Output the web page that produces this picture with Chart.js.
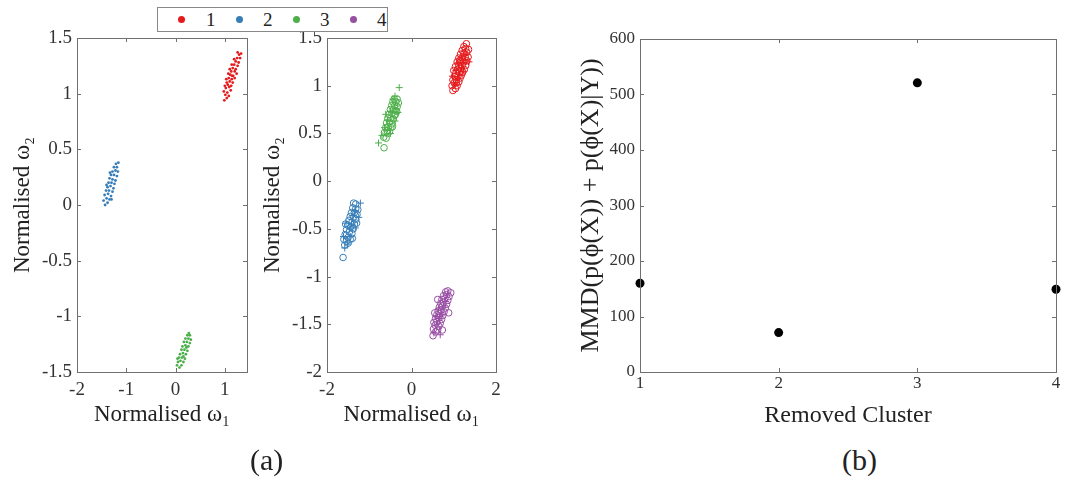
<!DOCTYPE html>
<html lang="en">
<head>
  <meta charset="UTF-8" />
  <title>Cluster removal MMD</title>
  <script src="https://cdn.jsdelivr.net/npm/chart.js@4.4.0/dist/chart.umd.min.js"></script>
  <style>
    body {
      margin: 0;
      width: 1092px;
      height: 482px;
      background: #fff;
      position: relative;
      overflow: hidden;
      font-family: "Liberation Serif", serif;
      color: #222;
    }
    canvas { position: absolute; top: 0; }
    #legend {
      position: absolute;
      left: 157px; top: 7px;
      width: 231px; height: 25px;
      border: 1px solid #888;
      box-sizing: border-box;
      background: #fff;
      z-index: 5;
    }
    #legend span { position: absolute; }
    #legend .dot { width: 7px; height: 7px; border-radius: 50%; top: 8px; }
    #legend .num { font-size: 19px; top: 0px; line-height: 23px; }
    .cap { position: absolute; top: 442px; font-size: 30px; line-height: 36px; }
  </style>
</head>
<body>

  <canvas id="chartA" width="255" height="440" style="left:0px"></canvas>
  <canvas id="chartB" width="260" height="440" style="left:250px"></canvas>
  <canvas id="chartC" width="547" height="440" style="left:545px"></canvas>

  <div id="legend"></div>
  <div class="cap" style="left:250px">(a)</div>
  <div class="cap" style="left:842px">(b)</div>

  <script>
    // cluster colours and names
    const clusterNames = ['1', '2', '3', '4'];
    const clusterColors = ['#e41a1c', '#377eb8', '#4daf4a', '#984ea3'];

    // (a) left: clusters without cluster 4
    const leftRed = [[0.99,0.94],[1.04,0.96],[1.01,0.99],[1.08,0.98],[0.98,1.02],[1.05,1.01],[1.12,1.03],[1.02,1.05],[1.09,1.06],[1.0,1.07],[1.06,1.08],[1.13,1.07],[1.04,1.1],[1.1,1.11],[1.16,1.1],[1.08,1.14],[1.14,1.13],[1.2,1.14],[1.03,1.13],[1.11,1.17],[1.17,1.16],[1.07,1.18],[1.13,1.2],[1.2,1.2],[1.24,1.18],[1.16,1.23],[1.22,1.22],[1.1,1.22],[1.19,1.26],[1.26,1.25],[1.14,1.26],[1.22,1.29],[1.28,1.28],[1.25,1.32],[1.19,1.31],[1.31,1.32],[1.29,1.35],[1.26,1.37],[1.33,1.36],[1.15,1.16]];
    const leftBlue = [[-1.43,0.0],[-1.38,0.02],[-1.46,0.04],[-1.4,0.06],[-1.34,0.05],[-1.44,0.09],[-1.37,0.1],[-1.31,0.08],[-1.41,0.13],[-1.35,0.13],[-1.28,0.12],[-1.38,0.16],[-1.32,0.17],[-1.26,0.15],[-1.36,0.2],[-1.3,0.2],[-1.24,0.19],[-1.34,0.24],[-1.28,0.23],[-1.22,0.22],[-1.31,0.27],[-1.25,0.27],[-1.19,0.26],[-1.28,0.3],[-1.22,0.31],[-1.17,0.3],[-1.25,0.34],[-1.19,0.34],[-1.21,0.37],[-1.16,0.38],[-1.3,0.05],[-1.4,0.18],[-1.33,0.29]];
    const leftGreen = [[0.03,-1.44],[0.08,-1.46],[0.12,-1.44],[0.05,-1.41],[0.1,-1.4],[0.16,-1.41],[0.07,-1.37],[0.13,-1.37],[0.19,-1.38],[0.09,-1.34],[0.15,-1.33],[0.21,-1.34],[0.12,-1.3],[0.18,-1.3],[0.24,-1.31],[0.14,-1.27],[0.2,-1.26],[0.26,-1.27],[0.17,-1.23],[0.23,-1.23],[0.29,-1.24],[0.2,-1.2],[0.26,-1.2],[0.31,-1.21],[0.24,-1.17],[0.29,-1.17],[0.27,-1.15],[0.04,-1.38],[0.22,-1.28],[0.16,-1.36]];

    // (a) middle: circles and plus markers per cluster
    const midRedO = [[0.98,0.95],[1.04,0.97],[0.96,1.0],[1.08,1.0],[1.01,1.03],[1.12,1.04],[0.98,1.06],[1.06,1.06],[1.15,1.08],[1.02,1.1],[1.1,1.1],[1.18,1.11],[1.05,1.13],[1.13,1.14],[1.21,1.14],[1.0,1.16],[1.09,1.17],[1.17,1.18],[1.25,1.17],[1.04,1.2],[1.12,1.21],[1.2,1.21],[1.28,1.21],[1.08,1.25],[1.16,1.25],[1.24,1.25],[1.31,1.26],[1.12,1.29],[1.2,1.29],[1.27,1.3],[1.34,1.3],[1.16,1.33],[1.24,1.34],[1.31,1.35],[1.2,1.37],[1.28,1.39],[1.35,1.38],[1.24,1.41],[1.3,1.44],[1.06,1.03],[1.14,1.26]];
    const midRedP = [[0.97,1.1],[1.03,1.01],[1.09,1.08],[1.14,1.12],[1.18,1.19],[1.22,1.24],[1.27,1.27],[1.36,1.25],[1.1,1.24],[1.29,1.33],[1.05,1.16],[1.22,1.15],[1.17,1.3]];
    const midBlueO = [[-1.62,-0.8],[-1.58,-0.67],[-1.6,-0.61],[-1.54,-0.63],[-1.57,-0.56],[-1.5,-0.59],[-1.45,-0.61],[-1.54,-0.51],[-1.47,-0.53],[-1.41,-0.55],[-1.51,-0.46],[-1.44,-0.48],[-1.38,-0.5],[-1.48,-0.41],[-1.41,-0.43],[-1.35,-0.45],[-1.45,-0.37],[-1.38,-0.38],[-1.32,-0.4],[-1.42,-0.33],[-1.35,-0.33],[-1.29,-0.35],[-1.39,-0.28],[-1.32,-0.29],[-1.27,-0.3],[-1.37,-0.23],[-1.32,-0.24],[-1.5,-0.65],[-1.56,-0.45],[-1.4,-0.6],[-1.3,-0.44]];
    const midBlueP = [[-1.61,-0.58],[-1.58,-0.7],[-1.51,-0.66],[-1.47,-0.5],[-1.42,-0.45],[-1.39,-0.36],[-1.33,-0.31],[-1.21,-0.23],[-1.25,-0.38],[-1.33,-0.49],[-1.55,-0.44],[-1.45,-0.58]];
    const midGreenO = [[-0.65,0.35],[-0.66,0.46],[-0.6,0.45],[-0.64,0.51],[-0.57,0.5],[-0.52,0.52],[-0.61,0.56],[-0.55,0.57],[-0.49,0.56],[-0.59,0.61],[-0.52,0.62],[-0.46,0.6],[-0.56,0.66],[-0.49,0.66],[-0.43,0.65],[-0.53,0.7],[-0.46,0.71],[-0.4,0.69],[-0.5,0.75],[-0.43,0.75],[-0.37,0.74],[-0.47,0.79],[-0.4,0.79],[-0.34,0.78],[-0.44,0.83],[-0.37,0.83],[-0.31,0.82],[-0.41,0.86],[-0.34,0.86],[-0.38,0.7],[-0.58,0.53],[-0.45,0.57],[-0.35,0.73]];
    const midGreenP = [[-0.78,0.4],[-0.7,0.48],[-0.64,0.56],[-0.57,0.64],[-0.5,0.73],[-0.44,0.86],[-0.39,0.89],[-0.29,0.98],[-0.39,0.63],[-0.5,0.5],[-0.32,0.72],[-0.61,0.7]];
    const midPurpleO = [[0.51,-1.62],[0.57,-1.58],[0.52,-1.55],[0.62,-1.56],[0.56,-1.51],[0.65,-1.52],[0.53,-1.48],[0.6,-1.47],[0.68,-1.49],[0.57,-1.44],[0.64,-1.43],[0.71,-1.45],[0.6,-1.4],[0.67,-1.39],[0.74,-1.41],[0.63,-1.36],[0.7,-1.35],[0.77,-1.37],[0.66,-1.32],[0.73,-1.31],[0.8,-1.33],[0.69,-1.28],[0.76,-1.27],[0.83,-1.29],[0.72,-1.24],[0.79,-1.23],[0.86,-1.25],[0.76,-1.2],[0.83,-1.19],[0.89,-1.21],[0.81,-1.16],[0.86,-1.15],[0.93,-1.17],[0.62,-1.24],[0.73,-1.56],[0.88,-1.38],[0.55,-1.38]];
    const midPurpleP = [[0.53,-1.59],[0.68,-1.61],[0.6,-1.5],[0.66,-1.44],[0.72,-1.4],[0.76,-1.32],[0.8,-1.26],[0.85,-1.18],[0.64,-1.34],[0.58,-1.42]];

    // (b) MMD per removed cluster
    const removedCluster = [1, 2, 3, 4];
    const mmdValues = [160, 71, 521, 149];

    // tick labels
    const leftXTicks = [-2, -1, 0, 1];
    const leftYTicks = [-1.5, -1, -0.5, 0, 0.5, 1, 1.5];
    const midXTicks = [-2, 0, 2];
    const midYTicks = [-2, -1.5, -1, -0.5, 0, 0.5, 1, 1.5];
    const rightXTicks = [1, 2, 3, 4];
    const rightYTicks = [0, 100, 200, 300, 400, 500, 600];

    const toXY = arr => arr.map(p => ({ x: p[0], y: p[1] }));
    const FONT = '"Liberation Serif", serif';

    // legend box
    const legend = document.getElementById('legend');
    const dotX = [20, 78, 135, 192];
    const numX = [48, 105, 162, 219];
    clusterNames.forEach((n, i) => {
      legend.insertAdjacentHTML('beforeend',
        `<span class="dot" style="left:${dotX[i]}px;background:${clusterColors[i]}"></span>` +
        `<span class="num" style="left:${numX[i]}px">${n}</span>`);
    });

    // inward ticks on all four sides plus the box, like MATLAB
    const boxTicks = {
      id: 'boxTicks',
      afterDraw(chart) {
        const { ctx, chartArea: a, scales: { x, y } } = chart;
        ctx.save();
        ctx.strokeStyle = '#707070';
        ctx.lineWidth = 1;
        ctx.strokeRect(Math.round(a.left) + 0.5, Math.round(a.top) + 0.5,
          Math.round(a.right - a.left), Math.round(a.bottom - a.top));
        ctx.beginPath();
        x.ticks.forEach(t => {
          const px = Math.round(x.getPixelForValue(t.value)) + 0.5;
          ctx.moveTo(px, a.bottom); ctx.lineTo(px, a.bottom - 4);
          ctx.moveTo(px, a.top); ctx.lineTo(px, a.top + 4);
        });
        y.ticks.forEach(t => {
          const py = Math.round(y.getPixelForValue(t.value)) + 0.5;
          ctx.moveTo(a.left, py); ctx.lineTo(a.left + 4, py);
          ctx.moveTo(a.right, py); ctx.lineTo(a.right - 4, py);
        });
        ctx.stroke();
        ctx.restore();
      }
    };

    function axis(min, max, ticks, title, tickSize, titleSize, boxSize, horizontal, pad) {
      return {
        type: 'linear',
        min: min,
        max: max,
        afterBuildTicks: s => { s.ticks = ticks.map(v => ({ value: v })); },
        afterFit: s => { if (horizontal) s.height = boxSize; else s.width = boxSize; },
        grid: { display: false, drawTicks: false },
        border: { display: false },
        ticks: {
          color: '#333',
          padding: pad,
          maxRotation: 0,
          autoSkip: false,
          font: { family: FONT, size: tickSize },
          callback: v => String(v)
        },
        title: {
          display: true,
          text: title,
          color: '#222',
          padding: { top: 4, bottom: 4 },
          font: { family: FONT, size: titleSize }
        }
      };
    }

    function baseOptions(padding, scales) {
      return {
        responsive: false,
        animation: false,
        layout: { padding: padding },
        plugins: { legend: { display: false }, tooltip: { enabled: false } },
        scales: scales
      };
    }

    const dots = (data, c) => ({ data: toXY(data), pointStyle: 'circle', pointRadius: 1.4, backgroundColor: c, borderColor: c, borderWidth: 0 });
    const rings = (data, c) => ({ data: toXY(data), pointStyle: 'circle', pointRadius: 3.3, backgroundColor: 'rgba(0,0,0,0)', borderColor: c, borderWidth: 1 });
    const pluses = (data, c) => ({ data: toXY(data), pointStyle: 'cross', pointRadius: 3.5, borderColor: c, borderWidth: 1 });

    // === (a) left ===
    new Chart(document.getElementById('chartA'), {
      type: 'scatter',
      data: {
        datasets: [
          dots(leftRed, clusterColors[0]),
          dots(leftBlue, clusterColors[1]),
          dots(leftGreen, clusterColors[2])
        ]
      },
      options: baseOptions({ left: 5, top: 38, right: 8, bottom: 7 }, {
        x: axis(-2, 1.45, leftXTicks, 'Normalised ω₁', 19, 23, 61, true, 7),
        y: axis(-1.5, 1.5, leftYTicks, 'Normalised ω₂', 19, 23, 72, false, 5)
      }),
      plugins: [boxTicks]
    });

    // === (a) middle ===
    new Chart(document.getElementById('chartB'), {
      type: 'scatter',
      data: {
        datasets: [
          rings(midRedO, clusterColors[0]), pluses(midRedP, clusterColors[0]),
          rings(midBlueO, clusterColors[1]), pluses(midBlueP, clusterColors[1]),
          rings(midGreenO, clusterColors[2]), pluses(midGreenP, clusterColors[2]),
          rings(midPurpleO, clusterColors[3]), pluses(midPurpleP, clusterColors[3])
        ]
      },
      options: baseOptions({ left: 5, top: 38, right: 14, bottom: 7 }, {
        x: axis(-2, 2, midXTicks, 'Normalised ω₁', 19, 23, 61, true, 7),
        y: axis(-2, 1.5, midYTicks, 'Normalised ω₂', 19, 23, 72, false, 5)
      }),
      plugins: [boxTicks]
    });

    // === (b) ===
    new Chart(document.getElementById('chartC'), {
      type: 'scatter',
      data: {
        datasets: [{
          data: removedCluster.map((c, i) => ({ x: c, y: mmdValues[i] })),
          pointStyle: 'circle',
          pointRadius: 4.5,
          backgroundColor: '#000',
          borderColor: '#000',
          borderWidth: 0,
          clip: false
        }]
      },
      options: baseOptions({ left: 27, top: 39, right: 36, bottom: 6 }, {
        x: axis(1, 4, rightXTicks, 'Removed Cluster', 17, 24, 62, true, 1),
        y: axis(0, 600, rightYTicks, 'MMD(p(ϕ(X)) + p(ϕ(X)|Y))', 17, 26, 68, false, 5)
      }),
      plugins: [boxTicks]
    });
  </script>
</body>
</html>
